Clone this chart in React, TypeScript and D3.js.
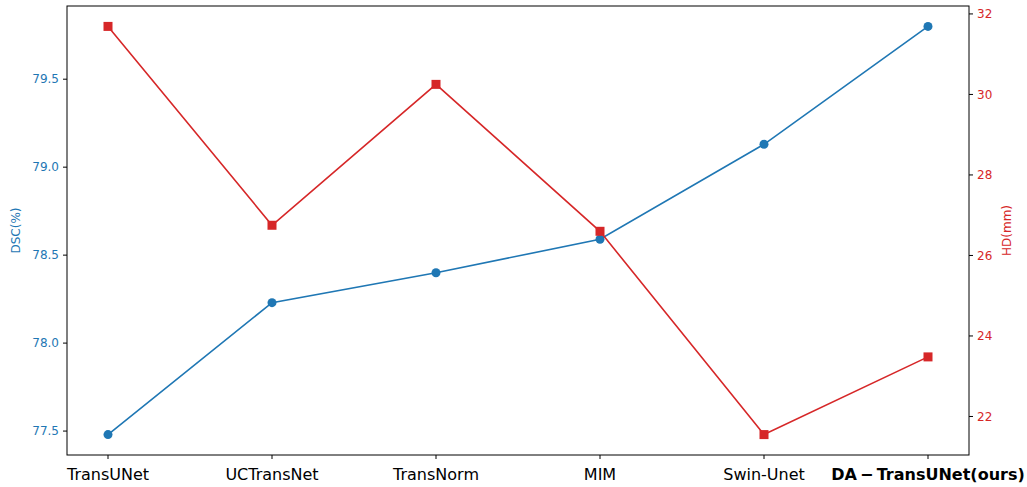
import React from "react";
import * as d3 from "d3";

const categories = ["TransUNet", "UCTransNet", "TransNorm", "MIM", "Swin-Unet", "DA-TransUNet(ours)"];
const dscValues = [77.48, 78.23, 78.4, 78.59, 79.13, 79.8];
const hdValues = [31.69, 26.75, 30.25, 26.6, 21.55, 23.48];
const dscTicks = [77.5, 78.0, 78.5, 79.0, 79.5];
const hdTicks = [22, 24, 26, 28, 30, 32];

const W = 1027, H = 487;
const L = 67, R = 969, T = 6, B = 455;
const BLUE = "#1f77b4", RED = "#d62728";
const FONT = "DejaVu Sans, sans-serif";

export default function App() {
  const x = d3.scaleLinear().domain([-0.25, categories.length - 0.75]).range([L, R]);
  const pad = (a: number[]) => {
    const [mn, mx] = d3.extent(a) as [number, number];
    const p = (mx - mn) * 0.05;
    return [mn - p, mx + p];
  };
  const yL = d3.scaleLinear().domain(pad(dscValues)).range([B, T]);
  const yR = d3.scaleLinear().domain(pad(hdValues)).range([B, T]);
  const lineL = d3.line<number>().x((_, i) => x(i)).y((d) => yL(d));
  const lineR = d3.line<number>().x((_, i) => x(i)).y((d) => yR(d));

  return (
    <svg width={W} height={H} style={{ position: "absolute", left: 0, top: 0, background: "#fff" }} fontFamily={FONT}>
      <rect x={0} y={0} width={W} height={H} fill="#fff" />
      <path d={lineL(dscValues) || ""} fill="none" stroke={BLUE} strokeWidth={1.6} />
      {dscValues.map((v, i) => (
        <circle key={"c" + i} cx={x(i)} cy={yL(v)} r={4.5} fill={BLUE} />
      ))}
      <path d={lineR(hdValues) || ""} fill="none" stroke={RED} strokeWidth={1.6} />
      {hdValues.map((v, i) => (
        <rect key={"s" + i} x={x(i) - 4.5} y={yR(v) - 4.5} width={9} height={9} fill={RED} />
      ))}
      <rect x={L} y={T} width={R - L} height={B - T} fill="none" stroke="#000" strokeWidth={1} />
      {dscTicks.map((t) => (
        <g key={"l" + t} transform={`translate(${L},${yL(t)})`}>
          <line x1={0} x2={-4} stroke="#000" strokeWidth={1} />
          <text x={-8} dy="0.35em" textAnchor="end" fontSize={12} fill={BLUE}>{t.toFixed(1)}</text>
        </g>
      ))}
      <text transform={`translate(20,${(T + B) / 2}) rotate(-90)`} textAnchor="middle" fontSize={12} fill={BLUE}>DSC(%)</text>
      {hdTicks.map((t) => (
        <g key={"r" + t} transform={`translate(${R},${yR(t)})`}>
          <line x1={0} x2={4} stroke="#000" strokeWidth={1} />
          <text x={8} dy="0.35em" textAnchor="start" fontSize={12} fill={RED}>{t}</text>
        </g>
      ))}
      <text transform={`translate(1011,${(T + B) / 2}) rotate(-90)`} textAnchor="middle" fontSize={12} fill={RED}>HD(mm)</text>
      {categories.map((c, i) => (
        <g key={"x" + i} transform={`translate(${x(i)},${B})`}>
          <line y1={0} y2={4} stroke="#000" strokeWidth={1} />
          {i === categories.length - 1 ? (
            <text y={25} textAnchor="middle" fontSize={16} fontWeight="bold" fill="#000">
              {"DA\u2009\u2212\u2009TransUNet(ours)"}
            </text>
          ) : (
            <text y={25} textAnchor="middle" fontSize={16} fill="#000">{c}</text>
          )}
        </g>
      ))}
    </svg>
  );
}
